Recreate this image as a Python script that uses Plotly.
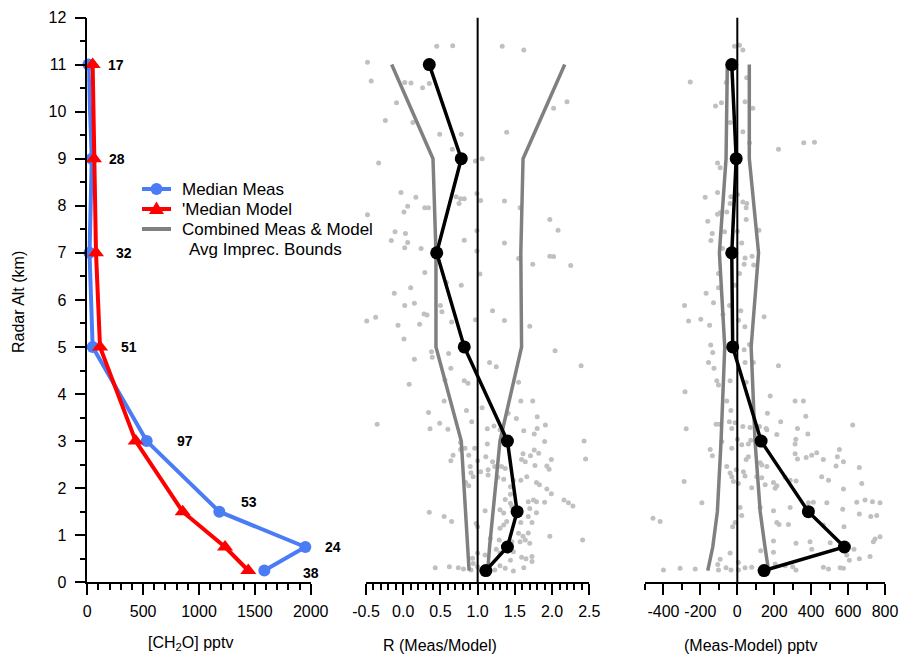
import plotly.graph_objects as go

# ---------------- data ----------------
alt_bins = [11, 9, 7, 5, 3, 1.5, 0.75, 0.25]
counts = [17, 28, 32, 51, 97, 53, 24, 38]
median_meas = [10, 40, 20, 48, 532, 1182, 1952, 1585]
median_model = [48, 60, 78, 114, 433, 854, 1233, 1441]

median_R = [0.35, 0.78, 0.45, 0.82, 1.40, 1.53, 1.40, 1.11]
R_lo = [-0.155, 0.40, 0.44, 0.44, 0.78, 0.84, 0.875, 0.885]
R_hi = [2.17, 1.61, 1.58, 1.59, 1.30, 1.20, 1.16, 1.135]

median_diff = [-30, -6, -30, -25, 129, 385, 580, 145]
diff_lo = [-54, -61, -97, -68, -88, -108, -133, -160]
diff_hi = [65, 65, 115, 75, 96, 124, 150, 169]

# individual points (value, altitude km)
ratio_points = [
    (0.45, 11.39), (0.665, 11.40), (1.33, 11.39), (1.62, 11.31), (-0.48, 11.05), (-0.43, 10.65),
    (0.02, 10.62), (0.105, 10.61), (0.35, 10.60), (0.26, 10.51), (2.51, 10.72), (2.20, 10.21),
    (2.02, 10.07), (-0.09, 10.19), (-0.24, 9.81), (0.13, 9.77), (0.49, 9.52), (0.78, 9.52),
    (1.39, 9.56), (0.66, 9.20), (0.97, 8.95), (1.06, 9.0), (-0.33, 8.91), (-0.03, 8.28),
    (0.17, 8.18), (0.71, 8.19), (0.77, 8.15), (0.82, 8.15), (0.75, 8.05), (0.99, 8.26),
    (1.04, 8.11), (1.36, 8.1), (1.57, 7.96), (0.06, 7.99), (0.29, 7.96), (0.34, 7.96),
    (0.01, 7.87), (-0.48, 7.81), (1.97, 7.71), (2.08, 7.48), (-0.11, 7.45), (0.03, 7.41),
    (-0.16, 7.26), (0.06, 7.22), (0.82, 7.27), (0.99, 7.47), (1.36, 7.21), (0.02, 7.11),
    (0.24, 7.09), (0.99, 7.04), (1.55, 6.88), (1.74, 6.76), (1.97, 6.93), (2.02, 6.92),
    (2.25, 6.73), (0.29, 6.58), (1.03, 6.55), (0.10, 6.26), (0.78, 6.31), (0.58, 6.37),
    (-0.12, 6.14), (0.02, 5.88), (0.15, 5.93), (0.50, 5.88), (0.52, 5.75), (0.28, 5.70),
    (0.32, 5.68), (-0.49, 5.55), (-0.37, 5.63), (-0.07, 5.46), (0.22, 5.48), (0.65, 5.53),
    (0.97, 5.58), (1.20, 5.77), (1.36, 5.56), (1.70, 5.44), (-0.35, 3.36), (0.01, 5.17),
    (0.15, 4.74), (0.38, 4.90), (0.39, 4.78), (0.61, 4.86), (0.64, 4.55), (1.16, 4.67),
    (1.25, 4.58), (2.04, 4.92), (2.39, 4.60), (0.08, 4.21), (0.56, 4.30), (0.82, 4.28),
    (0.87, 4.23), (1.55, 4.25), (0.55, 3.85), (1.58, 3.85), (1.74, 3.85), (0.34, 3.61),
    (0.85, 3.65), (1.06, 3.71), (0.92, 3.41), (1.41, 3.59), (1.52, 3.48), (1.80, 3.52),
    (0.49, 3.38), (0.36, 3.26), (0.60, 3.25), (1.13, 3.26), (1.22, 3.32), (1.30, 3.24),
    (1.62, 3.22), (1.80, 3.27), (1.91, 3.34), (1.76, 3.15), (0.77, 2.97), (0.83, 2.85),
    (0.77, 2.82), (0.96, 2.85), (1.13, 2.94), (1.90, 2.99), (2.43, 3.00), (0.67, 2.70),
    (0.64, 2.58), (0.88, 2.70), (1.00, 2.58), (1.11, 2.67), (1.20, 2.56), (1.61, 2.73),
    (1.59, 2.61), (1.71, 2.69), (1.76, 2.81), (1.82, 2.74), (1.99, 2.61), (1.64, 2.56),
    (0.90, 2.46), (0.91, 2.33), (1.04, 2.35), (1.14, 2.39), (1.23, 2.46), (1.32, 2.46),
    (1.37, 2.42), (1.77, 2.48), (1.93, 2.47), (1.96, 2.40), (2.45, 2.62), (0.84, 2.12),
    (0.88, 2.05), (0.94, 2.24), (1.14, 2.28), (1.27, 2.23), (1.35, 2.19), (1.48, 2.17),
    (1.58, 2.17), (1.66, 2.24), (1.79, 2.12), (1.83, 2.07), (1.93, 1.98), (1.99, 1.88),
    (1.44, 2.03), (1.44, 1.87), (1.75, 1.75), (1.79, 1.71), (1.90, 1.70), (1.68, 1.71),
    (1.37, 1.76), (1.44, 1.68), (2.16, 1.75), (2.22, 1.69), (2.28, 1.62), (0.35, 1.49),
    (0.55, 1.40), (0.65, 1.29), (1.10, 1.52), (1.30, 1.54), (1.35, 1.47), (1.39, 1.29),
    (1.46, 1.61), (1.70, 1.57), (1.79, 1.48), (1.68, 1.40), (1.58, 1.27), (1.73, 1.27),
    (0.98, 1.25), (1.00, 1.18), (1.30, 1.15), (1.35, 1.22), (1.55, 1.04), (1.61, 0.98),
    (1.68, 1.05), (1.97, 0.98), (2.41, 0.90), (1.17, 0.93), (1.29, 0.90), (1.46, 0.86),
    (1.57, 0.86), (1.64, 0.90), (1.70, 0.83), (1.48, 0.65), (1.25, 0.70), (1.00, 0.62),
    (1.10, 0.58), (1.30, 0.62), (1.44, 0.47), (1.59, 0.53), (1.65, 0.50), (1.73, 0.44),
    (1.73, 0.55), (0.93, 0.51), (0.94, 0.40), (0.43, 0.31), (0.62, 0.33), (0.74, 0.31),
    (0.81, 0.28), (0.91, 0.26), (1.00, 0.33), (1.05, 0.26), (1.23, 0.26), (1.30, 0.35),
    (1.37, 0.30), (1.48, 0.24), (1.62, 0.31),
]

diff_points = [
    (-15, 11.39), (12, 11.41), (30, 11.31), (-255, 10.63), (-60, 10.62), (51, 10.72),
    (-118, 10.12), (-86, 10.19), (42, 10.21), (84, 10.07), (-39, 9.77), (30, 9.57),
    (66, 9.34), (223, 9.20), (360, 9.34), (418, 9.35), (-107, 8.91), (-93, 8.81),
    (-174, 8.18), (-107, 8.28), (-35, 8.19), (1, 8.24), (30, 8.08), (51, 8.05),
    (-39, 8.05), (48, 7.96), (-107, 7.82), (-93, 7.85), (-57, 7.87), (-160, 7.67),
    (48, 7.71), (117, 7.48), (-136, 7.41), (-143, 7.26), (-69, 7.45), (1, 7.46),
    (24, 7.21), (-80, 7.09), (42, 6.89), (80, 6.93), (37, 6.76), (89, 6.74),
    (-102, 6.56), (12, 6.56), (-102, 6.26), (-12, 6.31), (-169, 6.14), (-286, 5.88),
    (-129, 5.94), (-42, 5.88), (-78, 5.69), (19, 5.77), (145, 5.64), (-264, 5.55),
    (-198, 5.59), (-150, 5.46), (7, 5.57), (41, 5.43),
    (-144, 5.04), (-133, 4.88), (-156, 4.67), (-126, 4.55), (37, 4.94), (66, 5.05),
    (42, 4.67), (87, 4.67), (223, 4.60), (-111, 4.28), (-102, 4.19), (-39, 4.28),
    (48, 4.25), (-283, 4.05), (178, 3.96), (313, 3.85), (358, 3.85), (371, 3.53),
    (-57, 3.85), (-35, 3.65), (163, 3.59), (235, 3.41), (-115, 3.36), (-97, 3.36),
    (-43, 3.41), (-12, 3.39), (-30, 3.27), (30, 3.31), (69, 3.29), (120, 3.31),
    (156, 3.27), (160, 3.24), (214, 3.14), (326, 3.27), (382, 3.15), (625, 3.34),
    (-277, 3.26), (-84, 2.99), (1, 3.04), (73, 3.02), (60, 2.94), (24, 2.92),
    (317, 3.04), (313, 2.94), (-147, 2.82), (-135, 2.69), (-30, 2.85), (60, 2.67),
    (48, 2.61), (313, 2.73), (326, 2.62), (373, 2.65), (403, 2.70), (430, 2.75),
    (466, 2.61), (553, 2.82), (542, 2.67), (575, 2.56), (535, 2.47), (661, 2.44),
    (-57, 2.46), (-39, 2.32), (-30, 2.24), (-6, 2.39), (33, 2.35), (42, 2.26),
    (124, 2.54), (133, 2.49), (160, 2.46), (105, 2.24), (133, 2.22), (196, 2.12),
    (214, 2.05), (259, 2.23), (286, 2.17), (318, 2.15), (457, 2.24), (494, 2.17),
    (-21, 2.14), (6, 2.10), (-288, 2.14), (78, 2.01), (151, 2.07), (205, 2.00),
    (674, 2.10), (575, 1.98), (-192, 1.69), (15, 1.59), (124, 1.59), (196, 1.52),
    (286, 1.59), (385, 1.69), (412, 1.70), (485, 1.69), (571, 1.55), (647, 1.70),
    (692, 1.75), (732, 1.71), (773, 1.69), (661, 1.45), (723, 1.40), (755, 1.42),
    (-12, 1.27), (-25, 1.18), (-418, 1.29), (-457, 1.36), (24, 1.42), (214, 1.27),
    (226, 1.23), (277, 1.23), (466, 1.22), (578, 1.18), (318, 0.83), (394, 0.86),
    (503, 0.84), (196, 0.88), (127, 0.67), (196, 0.64), (403, 0.70), (632, 0.70),
    (737, 0.86), (773, 0.97), (746, 0.92), (661, 0.50), (607, 0.47), (719, 0.55),
    (593, 0.58), (-39, 0.62), (-93, 0.49), (-106, 0.38), (-61, 0.31), (-34, 0.26),
    (6, 0.42), (42, 0.31), (78, 0.32), (6, 0.26), (-102, 0.26), (-310, 0.30),
    (-400, 0.26), (-228, 0.28), (205, 0.39), (259, 0.35), (300, 0.33), (318, 0.26),
    (466, 0.32), (494, 0.28), (557, 0.31), (575, 0.30),
]

alt_ticks = list(range(0, 13))
conc_ticks = [0, 500, 1000, 1500, 2000]
ratio_ticks = [-0.5, 0.0, 0.5, 1.0, 1.5, 2.0, 2.5]
ratio_ticktext = ["-0.5", "0.0", "0.5", "1.0", "1.5", "2.0", "2.5"]
diff_ticks = [-400, -200, 0, 200, 400, 600, 800]
diff_ticktext = ["-400", "-200", "0", "200", "400", "600", "800"]

legend_labels = ["Median Meas", "'Median Model", "Combined Meas & Model", "Avg Imprec. Bounds"]

# ---------------- style ----------------
FONT = "Liberation Sans, Arial, Helvetica, sans-serif"
BLUE = "#4a7cf6"
RED = "#ff0000"
GREY_LINE = "#808080"
GREY_PT = "#c0c0c0"
W, H = 901, 656


def px(x):
    return x / W


def py(y):
    return 1 - y / H


# label offsets (pixels) relative to the right-most point of each altitude
label_dx = [13, 13, 18, 19, 28, 20, 18, 37]
label_dy = [0, 0, 0, 0, 0, 10, 0, -2]

fig = go.Figure()

# scatter of individual points
fig.add_trace(go.Scatter(
    x=[p[0] for p in ratio_points], y=[p[1] for p in ratio_points],
    xaxis="x2", yaxis="y", mode="markers",
    marker=dict(size=5, color=GREY_PT), showlegend=False, cliponaxis=False))
fig.add_trace(go.Scatter(
    x=[p[0] for p in diff_points], y=[p[1] for p in diff_points],
    xaxis="x3", yaxis="y", mode="markers",
    marker=dict(size=5, color=GREY_PT), showlegend=False, cliponaxis=False))

# imprecision bounds
for xs, ax in [(R_lo, "x2"), (R_hi, "x2"), (diff_lo, "x3"), (diff_hi, "x3")]:
    fig.add_trace(go.Scatter(x=xs, y=alt_bins, xaxis=ax, yaxis="y", mode="lines",
                             line=dict(color=GREY_LINE, width=3.5), cliponaxis=False,
                             showlegend=False))

# reference lines
fig.add_trace(go.Scatter(x=[1, 1], y=[0, 12], xaxis="x2", yaxis="y", mode="lines",
                         line=dict(color="black", width=2), showlegend=False, cliponaxis=False))
fig.add_trace(go.Scatter(x=[0, 0], y=[0, 12], xaxis="x3", yaxis="y", mode="lines",
                         line=dict(color="black", width=2), showlegend=False, cliponaxis=False))

# medians
fig.add_trace(go.Scatter(x=median_R, y=alt_bins, xaxis="x2", yaxis="y", mode="lines+markers",
                         line=dict(color="black", width=3.5), marker=dict(size=13, color="black"),
                         showlegend=False, cliponaxis=False))
fig.add_trace(go.Scatter(x=median_diff, y=alt_bins, xaxis="x3", yaxis="y", mode="lines+markers",
                         line=dict(color="black", width=3.5), marker=dict(size=13, color="black"),
                         showlegend=False, cliponaxis=False))

# concentration profiles
fig.add_trace(go.Scatter(x=median_meas, y=alt_bins, xaxis="x", yaxis="y", mode="lines+markers",
                         line=dict(color=BLUE, width=4), marker=dict(size=12, color=BLUE, symbol="circle"),
                         name=legend_labels[0], showlegend=False, cliponaxis=False))
fig.add_trace(go.Scatter(x=median_model, y=alt_bins, xaxis="x", yaxis="y", mode="lines+markers",
                         line=dict(color=RED, width=4), marker=dict(size=14, color=RED, symbol="triangle-up"),
                         name=legend_labels[1], showlegend=False, cliponaxis=False))

# count labels
annotations = []
for a, n, m1, m2, dx, dy in zip(alt_bins, counts, median_meas, median_model, label_dx, label_dy):
    annotations.append(dict(x=max(m1, m2), y=a, xref="x", yref="y", text=f"<b>{n}</b>",
                            showarrow=False, xanchor="left", yanchor="middle",
                            xshift=dx, yshift=dy, font=dict(size=14, color="black", family=FONT)))

# axis titles
annotations += [
    dict(x=px(18), y=py(302), xref="paper", yref="paper", text="Radar Alt (km)", textangle=-90,
         showarrow=False, xanchor="center", yanchor="middle", font=dict(size=16, family=FONT)),
    dict(x=px(190), y=py(643), xref="paper", yref="paper", text="[CH<sub>2</sub>O] pptv",
         showarrow=False, xanchor="center", yanchor="middle", font=dict(size=16, family=FONT)),
    dict(x=px(440), y=py(645), xref="paper", yref="paper", text="R (Meas/Model)",
         showarrow=False, xanchor="center", yanchor="middle", font=dict(size=16, family=FONT)),
    dict(x=px(750), y=py(645), xref="paper", yref="paper", text="(Meas-Model) pptv",
         showarrow=False, xanchor="center", yanchor="middle", font=dict(size=16, family=FONT)),
]

# hand-made legend (tight line spacing like the original)
leg_y = [189, 209, 229, 249]
leg_x = [180, 180, 180, 187]
for lab, lx, ly in zip(legend_labels, leg_x, leg_y):
    annotations.append(dict(x=px(lx), y=py(ly), xref="paper", yref="paper", text=lab,
                            showarrow=False, xanchor="left", yanchor="middle",
                            font=dict(size=17, family=FONT, color="black")))

shapes = []
for col, ly in [(BLUE, 189), (RED, 209), (GREY_LINE, 229)]:
    shapes.append(dict(type="line", xref="paper", yref="paper", x0=px(142), x1=px(171),
                       y0=py(ly), y1=py(ly), line=dict(color=col, width=4)))
shapes.append(dict(type="circle", xref="paper", yref="paper", x0=px(150.5), x1=px(162.5),
                   y0=py(195), y1=py(183), fillcolor=BLUE, line=dict(width=0)))
shapes.append(dict(type="path", xref="paper", yref="paper",
                   path=f"M {px(156.5)},{py(201.5)} L {px(149)},{py(214)} L {px(164)},{py(214)} Z",
                   fillcolor=RED, line=dict(width=0)))

common_x = dict(showline=True, linecolor="black", linewidth=1.5, ticks="outside", ticklen=11,
                tickwidth=1.5, tickcolor="black", showgrid=False, zeroline=False, automargin=False,
                tickfont=dict(size=16, family=FONT, color="black"), anchor="y", tickmode="array",
                ticklabelstandoff=3)

fig.update_layout(
    width=W, height=H,
    margin=dict(l=0, r=0, t=0, b=0, autoexpand=False),
    paper_bgcolor="white", plot_bgcolor="white",
    font=dict(family=FONT, color="black"),
    showlegend=False,
    xaxis=dict(domain=[px(87.3), px(310.7)], range=[0, 2000],
               tickvals=conc_ticks, ticktext=[str(v) for v in conc_ticks],
               minor=dict(tickmode="linear", tick0=0, dtick=100, ticklen=6, tickwidth=1.5,
                          tickcolor="black", ticks="outside"),
               **common_x),
    xaxis2=dict(domain=[px(366), px(589.3)], range=[-0.5, 2.5],
                tickvals=ratio_ticks, ticktext=ratio_ticktext,
                minor=dict(tickmode="linear", tick0=-0.5, dtick=0.1, ticklen=6, tickwidth=1.5,
                           tickcolor="black", ticks="outside"),
                **common_x),
    xaxis3=dict(domain=[px(645), px(885)], range=[-500, 800],
                tickvals=diff_ticks, ticktext=diff_ticktext,
                minor=dict(tickmode="linear", tick0=-500, dtick=100, ticklen=6, tickwidth=1.5,
                           tickcolor="black", ticks="outside"),
                **common_x),
    yaxis=dict(domain=[py(582.3), py(17.5)], range=[0, 12], anchor="x",
               showline=True, linecolor="black", linewidth=1.5, ticks="outside", ticklen=11,
               tickwidth=1.5, tickcolor="black", showgrid=False, zeroline=False, automargin=False,
               tickmode="array", tickvals=alt_ticks, ticktext=[str(v) for v in alt_ticks],
               tickfont=dict(size=16, family=FONT, color="black"), ticklabelstandoff=5,
               minor=dict(tickmode="linear", tick0=0, dtick=0.5, ticklen=6, tickwidth=1.5,
                          tickcolor="black", ticks="outside")),
    annotations=annotations,
    shapes=shapes,
)

fig.write_html("out.html", config={"displayModeBar": False},
               post_script="document.body.style.margin='0px';document.body.style.overflow='hidden';")
